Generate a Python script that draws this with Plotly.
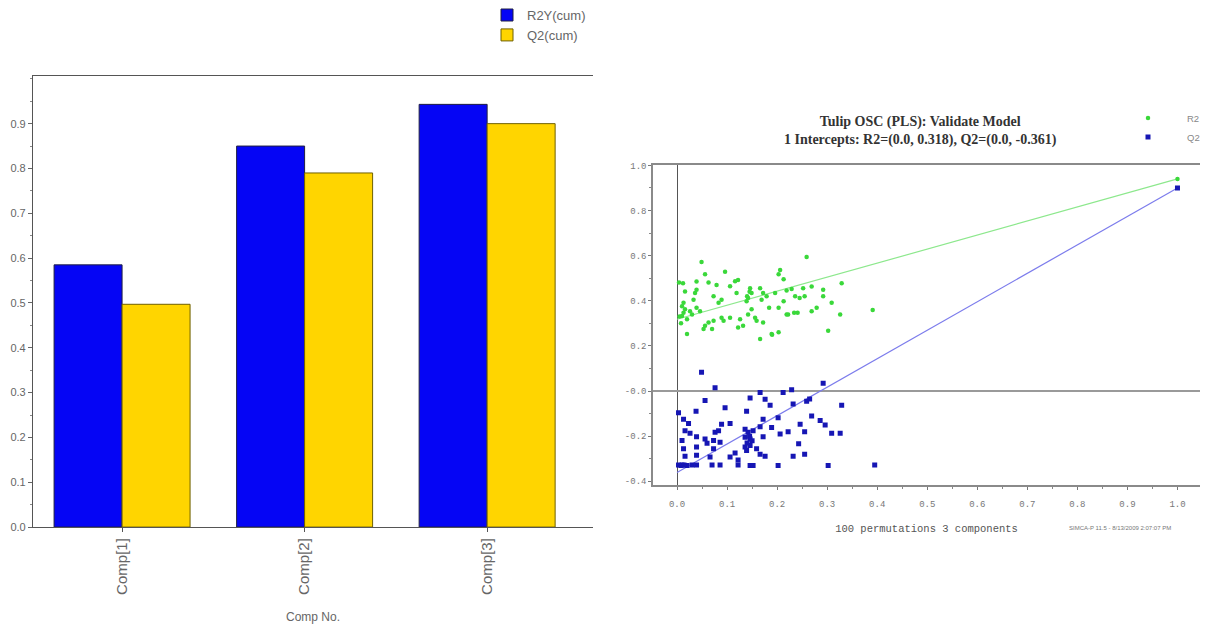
import plotly.graph_objects as go

# ---- Left panel: cumulative R2Y / Q2 per component ----
components = ["Comp[1]", "Comp[2]", "Comp[3]"]
r2y_cum = [0.585, 0.850, 0.943]
q2_cum = [0.497, 0.790, 0.900]

# ---- Right panel: permutation test (100 permutations, 3 components) ----
# (correlation between original and permuted Y, R2 / Q2 of permuted model)
perm_r2 = [
    (0.049, 0.572), (0.259, 0.594), (0.004, 0.481), (0.012, 0.478), (0.056, 0.518),
    (0.096, 0.529), (0.122, 0.492), (0.116, 0.486), (0.206, 0.536), (0.203, 0.518),
    (0.213, 0.495), (0.329, 0.478), (0.039, 0.485), (0.063, 0.481), (0.106, 0.464),
    (0.079, 0.470), (0.016, 0.441), (0.036, 0.434), (0.039, 0.449), (0.073, 0.420),
    (0.083, 0.391), (0.089, 0.405), (0.146, 0.456), (0.149, 0.434), (0.142, 0.412),
    (0.139, 0.398), (0.166, 0.456), (0.172, 0.434), (0.169, 0.405), (0.219, 0.446),
    (0.229, 0.452), (0.236, 0.420), (0.252, 0.456), (0.269, 0.463), (0.292, 0.449),
    (0.245, 0.412), (0.255, 0.420), (0.292, 0.420), (0.309, 0.391), (0.279, 0.369),
    (0.269, 0.354), (0.241, 0.347), (0.234, 0.347), (0.219, 0.339), (0.203, 0.369),
    (0.184, 0.369), (0.326, 0.339), (0.302, 0.267), (0.203, 0.260), (0.190, 0.249),
    (0.166, 0.231), (0.172, 0.304), (0.156, 0.325), (0.159, 0.311), (0.142, 0.339),
    (0.149, 0.362), (0.126, 0.318), (0.122, 0.282), (0.132, 0.289), (0.106, 0.325),
    (0.093, 0.311), (0.089, 0.325), (0.073, 0.311), (0.063, 0.304), (0.056, 0.289),
    (0.053, 0.275), (0.070, 0.275), (0.046, 0.354), (0.039, 0.369), (0.030, 0.339),
    (0.020, 0.318), (0.020, 0.253), (0.010, 0.376), (0.013, 0.391), (0.016, 0.362),
    (0.010, 0.333), (0.026, 0.354), (0.013, 0.347), (0.033, 0.405), (0.119, 0.434),
    (0.179, 0.420), (0.196, 0.434), (0.213, 0.398), (0.222, 0.339), (0.391, 0.359),
    (0.189, 0.253), (0.005, 0.330), (0.008, 0.300), (0.140, 0.420), (0.145, 0.440),
]
perm_q2 = [
    (0.049, 0.083), (0.076, 0.015), (0.166, -0.006), (0.212, -0.006), (0.229, 0.006),
    (0.292, 0.035), (0.146, -0.031), (0.176, -0.036), (0.186, -0.063), (0.056, -0.042),
    (0.038, -0.089), (0.096, -0.074), (0.139, -0.089), (0.232, -0.057), (0.259, -0.045),
    (0.265, -0.035), (0.329, -0.063), (0.003, -0.096), (0.013, -0.125), (0.023, -0.144),
    (0.172, -0.125), (0.202, -0.118), (0.269, -0.111), (0.286, -0.130), (0.296, -0.150),
    (0.246, -0.147), (0.106, -0.144), (0.089, -0.147), (0.166, -0.158), (0.189, -0.161),
    (0.222, -0.180), (0.206, -0.190), (0.255, -0.180), (0.309, -0.187), (0.326, -0.187),
    (0.016, -0.176), (0.026, -0.187), (0.039, -0.202), (0.056, -0.212), (0.076, -0.183),
    (0.083, -0.176), (0.136, -0.169), (0.142, -0.183), (0.152, -0.176), (0.172, -0.202),
    (0.136, -0.205), (0.146, -0.212), (0.073, -0.219), (0.086, -0.227), (0.060, -0.231),
    (0.010, -0.219), (0.039, -0.248), (0.013, -0.256), (0.073, -0.256), (0.136, -0.248),
    (0.146, -0.241), (0.159, -0.256), (0.139, -0.263), (0.243, -0.234), (0.016, -0.289),
    (0.039, -0.285), (0.066, -0.292), (0.106, -0.292), (0.116, -0.274), (0.166, -0.280),
    (0.176, -0.289), (0.232, -0.289), (0.255, -0.280), (0.122, -0.306), (0.003, -0.328),
    (0.010, -0.328), (0.020, -0.330), (0.030, -0.328), (0.039, -0.328), (0.070, -0.328),
    (0.086, -0.328), (0.122, -0.328), (0.146, -0.330), (0.152, -0.330), (0.202, -0.330),
    (0.302, -0.330), (0.395, -0.328), (0.150, -0.220), (0.145, -0.200), (0.140, -0.230),
    (0.008, -0.330), (0.014, -0.328),
]
# original (unpermuted) model and regression intercepts
orig_x = 1.0
orig_r2 = 0.940
orig_q2 = 0.900
intercept_r2 = 0.318
intercept_q2 = -0.361

x_ticks = [0.0, 0.1, 0.2, 0.3, 0.4, 0.5, 0.6, 0.7, 0.8, 0.9, 1.0]
y_ticks = [-0.4, -0.2, 0.0, 0.2, 0.4, 0.6, 0.8, 1.0]
y_tick_text = ["-0.4", "-0.2", "-0.0", "0.2", "0.4", "0.6", "0.8", "1.0"]

W, H = 1215, 624
SANS = "Liberation Sans Narrow, Liberation Sans, Arial, sans-serif"
MONO = "Liberation Mono, DejaVu Sans Mono, monospace"
SERIF = "Liberation Serif, DejaVu Serif, serif"

fig = go.Figure()

fig.add_trace(go.Bar(
    x=components, y=r2y_cum, name="R2Y(cum)",
    marker=dict(color="#0505f5", line=dict(color="#202040", width=1)),
    xaxis="x", yaxis="y", legend="legend",
))
fig.add_trace(go.Bar(
    x=components, y=q2_cum, name="Q2(cum)",
    marker=dict(color="#ffd500", line=dict(color="#6f6000", width=1)),
    xaxis="x", yaxis="y", legend="legend",
))

# regression lines through intercept and original model
fig.add_trace(go.Scatter(
    x=[0.0, orig_x], y=[intercept_r2, orig_r2], mode="lines",
    line=dict(color="#8de88d", width=1.2), showlegend=False,
    xaxis="x2", yaxis="y2", hoverinfo="skip",
))
fig.add_trace(go.Scatter(
    x=[0.0, orig_x], y=[intercept_q2, orig_q2], mode="lines",
    line=dict(color="#7c7cec", width=1.2), showlegend=False,
    xaxis="x2", yaxis="y2", hoverinfo="skip",
))

fig.add_trace(go.Scatter(
    x=[p[0] for p in perm_r2] + [orig_x],
    y=[p[1] for p in perm_r2] + [orig_r2],
    mode="markers", name="R2",
    marker=dict(color="#3ad83a", size=4.5, symbol="circle"),
    xaxis="x2", yaxis="y2", legend="legend2",
))
fig.add_trace(go.Scatter(
    x=[p[0] for p in perm_q2] + [orig_x],
    y=[p[1] for p in perm_q2] + [orig_q2],
    mode="markers", name="Q2",
    marker=dict(color="#1616b4", size=5, symbol="square"),
    xaxis="x2", yaxis="y2", legend="legend2",
))

fig.update_layout(
    width=W, height=H,
    margin=dict(l=0, r=0, t=0, b=0),
    paper_bgcolor="white", plot_bgcolor="white",
    barmode="group", bargap=0.255, bargroupgap=0,
    font=dict(family=SANS, color="#666666", size=11),
    xaxis=dict(
        domain=[33 / W, 593 / W], anchor="y",
        type="category", range=[-0.488, 2.58],
        showline=True, linecolor="#555555", linewidth=1.2, mirror=True,
        showgrid=False, zeroline=False,
        ticks="outside", ticklen=4, tickcolor="#555555",
        tickangle=-90, tickfont=dict(family=SANS, size=15, color="#666666"),
        title=dict(text="Comp No.", font=dict(family=SANS, size=12, color="#666666"), standoff=20),
    ),
    yaxis=dict(
        domain=[1 - 531.6 / H, 1 - 73.3 / H], anchor="x",
        range=[0, 1.006],
        tickvals=[0.0, 0.1, 0.2, 0.3, 0.4, 0.5, 0.6, 0.7, 0.8, 0.9],
        tickformat=".1f",
        showline=True, linecolor="#555555", linewidth=1.2,
        showgrid=False, zeroline=False,
        ticks="outside", ticklen=4, tickcolor="#666666",
        minor=dict(dtick=0.05, ticks="outside", ticklen=2, tickcolor="#888888"),
        tickfont=dict(family=SANS, size=11, color="#666666"),
    ),
    xaxis2=dict(
        domain=[653 / W, 1200 / W], anchor="y2",
        range=[-0.048, 1.045],
        tickvals=x_ticks, tickformat=".1f",
        showline=True, linecolor="#8a8a8a", linewidth=1.5, mirror=True,
        showgrid=False,
        zeroline=True, zerolinecolor="#555555", zerolinewidth=1,
        ticks="outside", ticklen=3, tickcolor="#777777",
        minor=dict(dtick=0.05, ticks="outside", ticklen=2, tickcolor="#888888"),
        ticklabelstandoff=6,
        tickfont=dict(family=MONO, size=9, color="#777777"),
        title=dict(text="100 permutations 3 components",
                   font=dict(family=MONO, size=10.5, color="#555555"), standoff=16),
    ),
    yaxis2=dict(
        domain=[1 - 489 / H, 1 - 164 / H], anchor="x2",
        range=[-0.417, 1.0],
        tickvals=y_ticks, ticktext=y_tick_text,
        showline=True, linecolor="#8a8a8a", linewidth=1.5,
        showgrid=False,
        zeroline=True, zerolinecolor="#9a9a9a", zerolinewidth=2,
        ticks="outside", ticklen=3, tickcolor="#777777",
        minor=dict(dtick=0.1, ticks="outside", ticklen=2, tickcolor="#888888"),
        tickfont=dict(family=MONO, size=9, color="#777777"),
    ),
    legend=dict(
        x=487 / W, y=1 + 4 / H, xanchor="left", yanchor="top",
        bgcolor="rgba(0,0,0,0)", itemwidth=30, tracegroupgap=0,
        font=dict(family=SANS, size=13, color="#666666"),
    ),
    legend2=dict(
        x=1109 / W, y=1 - 101 / H, xanchor="left", yanchor="top",
        bgcolor="rgba(0,0,0,0)", itemwidth=68,
        font=dict(family=SANS, size=9.5, color="#888888"),
    ),
    annotations=[
        dict(text="<b>Tulip OSC (PLS): Validate Model</b><br><b>1 Intercepts: R2=(0.0, 0.318), Q2=(0.0, -0.361)</b>",
             x=920 / W, y=1 - 110 / H, xref="paper", yref="paper",
             xanchor="center", yanchor="top", showarrow=False, align="center",
             font=dict(family=SERIF, size=14, color="#333333")),
        dict(text="SIMCA-P 11.5 - 8/13/2009 2:07:07 PM",
             x=1067 / W, y=1 - 533 / H, xref="paper", yref="paper",
             xanchor="left", yanchor="middle", showarrow=False,
             font=dict(family=SANS, size=6, color="#777777")),
    ],
)

fig.write_html("out.html")
